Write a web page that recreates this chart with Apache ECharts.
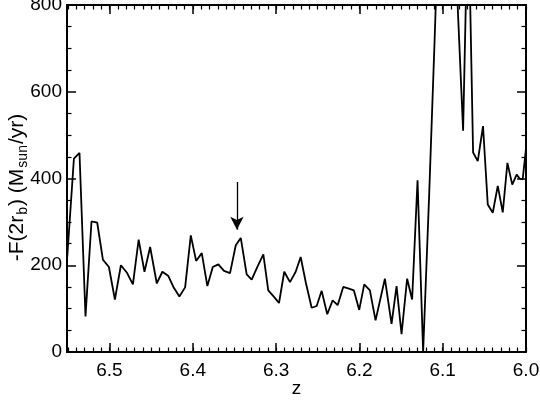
<!DOCTYPE html>
<html>
<head>
<meta charset="utf-8">
<script src="https://cdn.jsdelivr.net/npm/echarts@6/dist/echarts.min.js"></script>
<style>
html,body{margin:0;padding:0;background:#fff;}
#chart{width:540px;height:405px;}
</style>
</head>
<body>
<div id="chart"></div>
<script>
// Redshift z (x-axis, reversed)
const zValues = [
6.5507,6.5427,6.5360,6.5288,6.5216,6.5147,6.5079,6.5007,6.4935,6.4863,
6.4788,6.4719,6.4650,6.4580,6.4512,6.4432,6.4365,6.4293,6.4233,6.4161,
6.4092,6.4024,6.3960,6.3892,6.3825,6.3760,6.3693,6.3625,6.3553,6.3484,
6.3424,6.3353,6.3293,6.3225,6.3153,6.3094,6.3025,6.2965,6.2902,6.2833,
6.2765,6.2705,6.2642,6.2573,6.2513,6.2453,6.2386,6.2321,6.2261,6.2194,
6.2126,6.2066,6.2002,6.1942,6.1874,6.1806,6.1694,6.1614,6.1554,6.1494,
6.1427,6.1367,6.1302,6.1235,6.1163,6.1097,6.1031,6.0963,6.0896,6.0823,
6.0755,6.0695,6.0635,6.0579,6.0516,6.0459,6.0399,6.0339,6.0279,6.0223,
6.0165,6.0112,6.0076,6.0040,6.0000
];
// -F(2 r_b) in M_sun/yr
const fluxValues = [
219,446,459,82,301,298,213,196,121,200,
182,156,259,185,242,158,185,175,150,128,
149,269,210,228,152,196,202,187,182,246,
263,179,167,196,225,142,127,113,185,161,
185,219,159,102,106,141,87,119,108,150,
146,142,97,156,142,73,169,65,152,41,
169,121,396,0,360,720,1100,1400,1200,810,
510,1050,460,440,521,340,321,383,322,436,
386,409,400,398,469
];
// Arrow marker position (z, top value, tip value)
const arrowZ = 6.347;
const arrowTop = 392;
const arrowTip = 282;

const xMin = 6.0, xMax = 6.551;
const yMin = 0, yMax = 800;

const font = 'Liberation Sans, Arial, Helvetica, sans-serif';
const seriesData = zValues.map((z, i) => [z, fluxValues[i]]);

function majorFmt(v) {
  const r = Math.round(v * 10);
  return Math.abs(v * 10 - r) < 1e-6 ? (r / 10).toFixed(1) : '';
}

const baseX = {
  type: 'value', inverse: true, min: xMin, max: xMax,
  splitLine: {show: false}
};

const chart = echarts.init(document.getElementById('chart'), null, {renderer: 'canvas'});
chart.setOption({
  animation: false,
  backgroundColor: '#ffffff',
  grid: {left: 67, right: 14, top: 5, bottom: 53, containLabel: false, outerBoundsMode: 'none'},
  xAxis: [
    Object.assign({}, baseX, {
      position: 'bottom', interval: 0.1,
      axisLine: {show: true, lineStyle: {color: '#000', width: 2}},
      axisTick: {show: true, inside: true, length: 9, lineStyle: {color: '#000', width: 1.5}},
      axisLabel: {show: true, color: '#000', fontSize: 19, fontFamily: font, margin: 9, formatter: majorFmt, showMaxLabel: false},
      name: 'z', nameLocation: 'middle', nameGap: 27, nameMoveOverlap: false,
      nameTextStyle: {color: '#000', fontSize: 19, fontFamily: font}
    }),
    Object.assign({}, baseX, {
      position: 'bottom', interval: 0.01,
      axisLine: {show: false},
      axisTick: {show: true, inside: true, length: 4.5, lineStyle: {color: '#000', width: 1.2}},
      axisLabel: {show: false}
    }),
    Object.assign({}, baseX, {
      position: 'top', interval: 0.1,
      axisLine: {show: true, lineStyle: {color: '#000', width: 2}},
      axisTick: {show: true, inside: true, length: 9, lineStyle: {color: '#000', width: 1.5}},
      axisLabel: {show: false}
    }),
    Object.assign({}, baseX, {
      position: 'top', interval: 0.01,
      axisLine: {show: false},
      axisTick: {show: true, inside: true, length: 4.5, lineStyle: {color: '#000', width: 1.2}},
      axisLabel: {show: false}
    })
  ],
  yAxis: [
    {
      type: 'value', position: 'left', min: yMin, max: yMax, interval: 200,
      splitLine: {show: false},
      axisLine: {show: true, lineStyle: {color: '#000', width: 2}},
      axisTick: {show: true, inside: true, length: 9, lineStyle: {color: '#000', width: 1.5}},
      minorTick: {show: true, splitNumber: 4, length: 4.5, lineStyle: {color: '#000', width: 1.2}},
      minorSplitLine: {show: false},
      axisLabel: {show: true, color: '#000', fontSize: 19, fontFamily: font, margin: 5},
      name: '{n|-F(2r}{s|b}{n|) (M}{s|sun}{n|/yr)}',
      nameLocation: 'middle', nameRotate: 90, nameGap: 37, nameMoveOverlap: false,
      nameTextStyle: {
        color: '#000', fontFamily: font, padding: [0, 18, 0, 0],
        rich: {
          n: {fontSize: 21, fontFamily: font, color: '#000', lineHeight: 26, verticalAlign: 'middle'},
          s: {fontSize: 14, fontFamily: font, color: '#000', lineHeight: 26, verticalAlign: 'bottom', padding: [9, 1, 0, 1]}
        }
      }
    },
    {
      type: 'value', position: 'right', min: yMin, max: yMax, interval: 200,
      splitLine: {show: false},
      axisLine: {show: true, lineStyle: {color: '#000', width: 2}},
      axisTick: {show: true, inside: true, length: 9, lineStyle: {color: '#000', width: 1.5}},
      minorTick: {show: true, splitNumber: 4, length: 4.5, lineStyle: {color: '#000', width: 1.2}},
      minorSplitLine: {show: false},
      axisLabel: {show: false}
    }
  ],
  series: [{
    type: 'line',
    xAxisIndex: 0, yAxisIndex: 0,
    data: seriesData,
    showSymbol: false, symbol: 'none',
    clip: true,
    lineStyle: {color: '#000', width: 1.8},
    markLine: {
      silent: true,
      symbol: ['none', 'arrow'],
      symbolSize: [10, 13],
      label: {show: false},
      lineStyle: {color: '#000', width: 1.3, type: 'solid'},
      data: [[{coord: [arrowZ, arrowTop]}, {coord: [arrowZ, arrowTip]}]]
    }
  }]
});
</script>
</body>
</html>
